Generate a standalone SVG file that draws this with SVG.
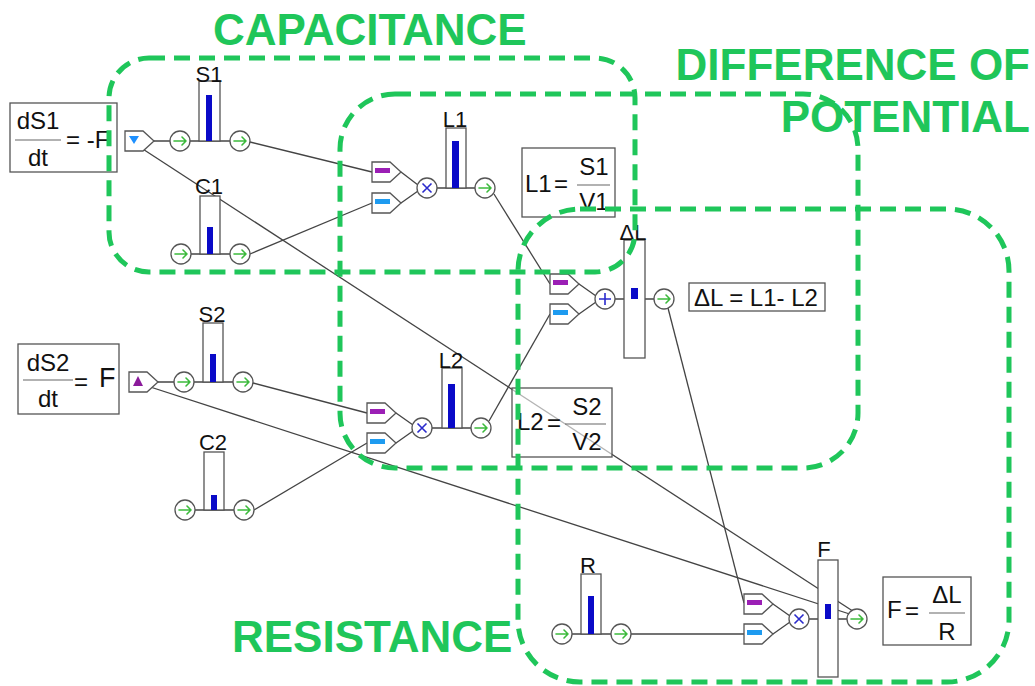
<svg xmlns="http://www.w3.org/2000/svg" width="1035" height="686" viewBox="0 0 1035 686">
  <style>
    .wire { stroke: #444; stroke-width: 1.3; fill: none; }
    .outline { stroke: #555; stroke-width: 1.3; fill: #fff; }
    .level { fill: #0a0ac8; }
    .flow { stroke: #555; stroke-width: 1.3; fill: #fff; }
    .arrow { stroke: #3cba3c; stroke-width: 1.6; fill: none; stroke-linecap: round; stroke-linejoin: round; }
    .op { stroke: #2a2acc; stroke-width: 1.6; fill: none; }
    .lbl { font-family: "Liberation Sans", Arial, sans-serif; font-size: 22px; fill: #111; text-anchor: middle; }
    .eq { font-family: "Liberation Sans", Arial, sans-serif; font-size: 24px; fill: #111; }
    .mid { text-anchor: middle; }
    .frac { stroke: #666; stroke-width: 1.2; }
    .eqbox { stroke: #555; stroke-width: 1.3; fill: #fff; fill-opacity: 0.6; }
    .zone { stroke: #1fc65a; stroke-width: 5; fill: none; stroke-dasharray: 16 9; }
    .title { font-family: "Liberation Sans", Arial, sans-serif; font-size: 44px; font-weight: bold; fill: #1fc65a; }
  </style>
  <defs>
    <!-- flow valve: circle with a right-pointing arrow -->
    <g id="valve">
      <circle r="10" class="flow"/>
      <path class="arrow" d="M-6 0 H6 M2 -4 L6 0 L2 4"/>
    </g>
    <!-- input converter shape -->
    <polygon id="tag" points="0,0 18,0 29,10 18,20 0,20" class="outline"/>
    <g id="inPurple"><use href="#tag"/><rect x="3" y="6" width="15" height="5" fill="#9b1fb5"/></g>
    <g id="inBlue"><use href="#tag"/><rect x="3" y="6" width="15" height="5" fill="#1e9bf0"/></g>
  </defs>

  <!-- connectors -->
  <g id="connectors">
    <!-- stock/valve baselines -->
    <line class="wire" x1="154" y1="141" x2="230" y2="141"/>
    <line class="wire" x1="191" y1="254" x2="230" y2="254"/>
    <line class="wire" x1="158" y1="382" x2="233" y2="382"/>
    <line class="wire" x1="195" y1="510" x2="234" y2="510"/>
    <line class="wire" x1="572" y1="634" x2="611" y2="634"/>
    <line class="wire" x1="437" y1="188" x2="475" y2="188"/>
    <line class="wire" x1="432" y1="428" x2="471" y2="428"/>
    <line class="wire" x1="615" y1="299" x2="654" y2="299"/>
    <line class="wire" x1="809" y1="619" x2="847" y2="619"/>
    <!-- converter tips into operators -->
    <polyline class="wire" points="401,172 418,185"/>
    <polyline class="wire" points="401,203 418,191"/>
    <polyline class="wire" points="396,413 413,425"/>
    <polyline class="wire" points="396,443 413,431"/>
    <polyline class="wire" points="579,284 596,296"/>
    <polyline class="wire" points="579,314 596,302"/>
    <polyline class="wire" points="773,604 790,616"/>
    <polyline class="wire" points="773,634 790,622"/>
    <!-- links between nodes -->
    <line class="wire" x1="250" y1="142" x2="372" y2="172"/>
    <line class="wire" x1="250" y1="254" x2="372" y2="203"/>
    <line class="wire" x1="253" y1="383" x2="367" y2="413"/>
    <line class="wire" x1="254" y1="510" x2="367" y2="443"/>
    <line class="wire" x1="494" y1="194" x2="550" y2="284"/>
    <line class="wire" x1="489" y1="421" x2="550" y2="314"/>
    <line class="wire" x1="668" y1="308" x2="744" y2="603"/>
    <line class="wire" x1="631" y1="634" x2="744" y2="634"/>
    <line class="wire" x1="132" y1="142" x2="865" y2="619"/>
    <line class="wire" x1="138" y1="383" x2="865" y2="619"/>
  </g>

  <!-- rate dS1/dt source -->
  <g id="source1">
    <polygon points="125,131 143,131 154,141 143,151 125,151" class="outline"/>
    <polygon points="129,136 139,136 134,144" fill="#1e90ff"/>
  </g>
  <!-- rate dS2/dt source -->
  <g id="source2">
    <polygon points="129,372 147,372 158,382 147,392 129,392" class="outline"/>
    <polygon points="133,386 143,386 138,376" fill="#8b1a9b"/>
  </g>

  <g id="S1">
    <rect x="199" y="81" width="21" height="60" class="outline"/>
    <rect x="206" y="95" width="6" height="46" class="level"/>
    <text x="209" y="82" class="lbl">S1</text>
    <use href="#valve" x="180" y="141"/>
    <use href="#valve" x="240" y="141"/>
  </g>
  <g id="C1">
    <rect x="200" y="196" width="20" height="58" class="outline"/>
    <rect x="207" y="227" width="6" height="27" class="level"/>
    <text x="209" y="194" class="lbl">C1</text>
    <use href="#valve" x="181" y="254"/>
    <use href="#valve" x="240" y="254"/>
  </g>
  <g id="S2">
    <rect x="203" y="323" width="20" height="59" class="outline"/>
    <rect x="210" y="354" width="6" height="28" class="level"/>
    <text x="212" y="322" class="lbl">S2</text>
    <use href="#valve" x="184" y="382"/>
    <use href="#valve" x="243" y="382"/>
  </g>
  <g id="C2">
    <rect x="204" y="452" width="20" height="58" class="outline"/>
    <rect x="211" y="495" width="6" height="15" class="level"/>
    <text x="213" y="450" class="lbl">C2</text>
    <use href="#valve" x="185" y="510"/>
    <use href="#valve" x="244" y="510"/>
  </g>
  <g id="L1">
    <use href="#inPurple" x="372" y="162"/>
    <use href="#inBlue" x="372" y="193"/>
    <circle cx="427" cy="188" r="10" class="flow"/>
    <path class="op" d="M422.5 183.5 L431.5 192.5 M431.5 183.5 L422.5 192.5"/>
    <rect x="446" y="128" width="20" height="60" class="outline"/>
    <rect x="452" y="141" width="7" height="47" class="level"/>
    <text x="455" y="127" class="lbl">L1</text>
    <use href="#valve" x="485" y="188"/>
  </g>
  <g id="L2">
    <use href="#inPurple" x="367" y="403"/>
    <use href="#inBlue" x="367" y="433"/>
    <circle cx="422" cy="428" r="10" class="flow"/>
    <path class="op" d="M417.5 423.5 L426.5 432.5 M426.5 423.5 L417.5 432.5"/>
    <rect x="442" y="368" width="20" height="60" class="outline"/>
    <rect x="448" y="384" width="7" height="44" class="level"/>
    <text x="451" y="368" class="lbl">L2</text>
    <use href="#valve" x="481" y="428"/>
  </g>
  <g id="deltaL">
    <use href="#inPurple" x="550" y="274"/>
    <use href="#inBlue" x="550" y="304"/>
    <circle cx="605" cy="299" r="10" class="flow"/>
    <path class="op" d="M605 293 V305 M599 299 H611"/>
    <rect x="624" y="240" width="21" height="118" class="outline"/>
    <rect x="631" y="288" width="7" height="11" class="level"/>
    <text x="633" y="240" class="lbl">ΔL</text>
    <use href="#valve" x="664" y="299"/>
  </g>
  <g id="R">
    <rect x="581" y="574" width="20" height="60" class="outline"/>
    <rect x="588" y="596" width="6" height="38" class="level"/>
    <text x="588" y="573" class="lbl">R</text>
    <use href="#valve" x="562" y="634"/>
    <use href="#valve" x="621" y="634"/>
  </g>
  <g id="F">
    <use href="#inPurple" x="744" y="594"/>
    <use href="#inBlue" x="744" y="624"/>
    <circle cx="799" cy="619" r="10" class="flow"/>
    <path class="op" d="M794.5 614.5 L803.5 623.5 M803.5 614.5 L794.5 623.5"/>
    <rect x="818" y="560" width="20" height="117" class="outline"/>
    <rect x="825" y="604" width="6" height="15" class="level"/>
    <text x="824" y="557" class="lbl">F</text>
    <use href="#valve" x="857" y="619"/>
  </g>

  <!-- equations -->
  <g id="eq-dS1">
    <rect x="10" y="103" width="107" height="69" class="eqbox"/>
    <text x="38" y="129" class="eq mid">dS1</text>
    <line x1="15" y1="140" x2="61" y2="140" class="frac"/>
    <text x="38" y="166" class="eq mid">dt</text>
    <text x="66" y="148" class="eq">= -F</text>
  </g>
  <g id="eq-dS2">
    <rect x="18" y="344" width="101" height="70" class="eqbox"/>
    <text x="48" y="371" class="eq mid">dS2</text>
    <line x1="23" y1="380" x2="73" y2="380" class="frac"/>
    <text x="48" y="407" class="eq mid">dt</text>
    <text x="74" y="390" class="eq">=</text>
    <text x="99" y="387" class="eq" style="font-size:27px">F</text>
  </g>
  <g id="eq-L1">
    <rect x="522" y="148" width="93" height="69" class="eqbox"/>
    <text x="525" y="192" class="eq">L1</text>
    <text x="554" y="192" class="eq">=</text>
    <text x="594" y="175" class="eq mid">S1</text>
    <line x1="577" y1="185" x2="610" y2="185" class="frac"/>
    <text x="594" y="210" class="eq mid">V1</text>
  </g>
  <g id="eq-L2">
    <rect x="512" y="388" width="100" height="69" class="eqbox"/>
    <text x="517" y="430" class="eq">L2</text>
    <text x="547" y="431" class="eq">=</text>
    <text x="587" y="415" class="eq mid">S2</text>
    <line x1="565" y1="424" x2="606" y2="424" class="frac"/>
    <text x="587" y="450" class="eq mid">V2</text>
  </g>
  <g id="eq-dL">
    <rect x="689" y="283" width="136" height="28" class="eqbox"/>
    <text x="694" y="306" class="eq">ΔL = L1- L2</text>
  </g>
  <g id="eq-F">
    <rect x="883" y="577" width="88" height="68" class="eqbox"/>
    <text x="887" y="618" class="eq">F</text>
    <text x="905" y="619" class="eq">=</text>
    <text x="947" y="603" class="eq mid">ΔL</text>
    <line x1="929" y1="613" x2="965" y2="613" class="frac"/>
    <text x="947" y="640" class="eq mid">R</text>
  </g>

  <!-- grouping zones -->
  <g id="zones">
    <rect id="zone-capacitance" x="109" y="58" width="526" height="214" rx="40" class="zone"/>
    <rect id="zone-potential" x="340" y="94" width="518" height="374" rx="55" class="zone"/>
    <rect id="zone-resistance" x="518" y="209" width="491" height="473" rx="62" class="zone"/>
    <text x="213" y="45" class="title">CAPACITANCE</text>
    <text x="1030" y="80" class="title" text-anchor="end">DIFFERENCE OF</text>
    <text x="1030" y="132" class="title" text-anchor="end">POTENTIAL</text>
    <text x="232" y="652" class="title">RESISTANCE</text>
  </g>
</svg>
